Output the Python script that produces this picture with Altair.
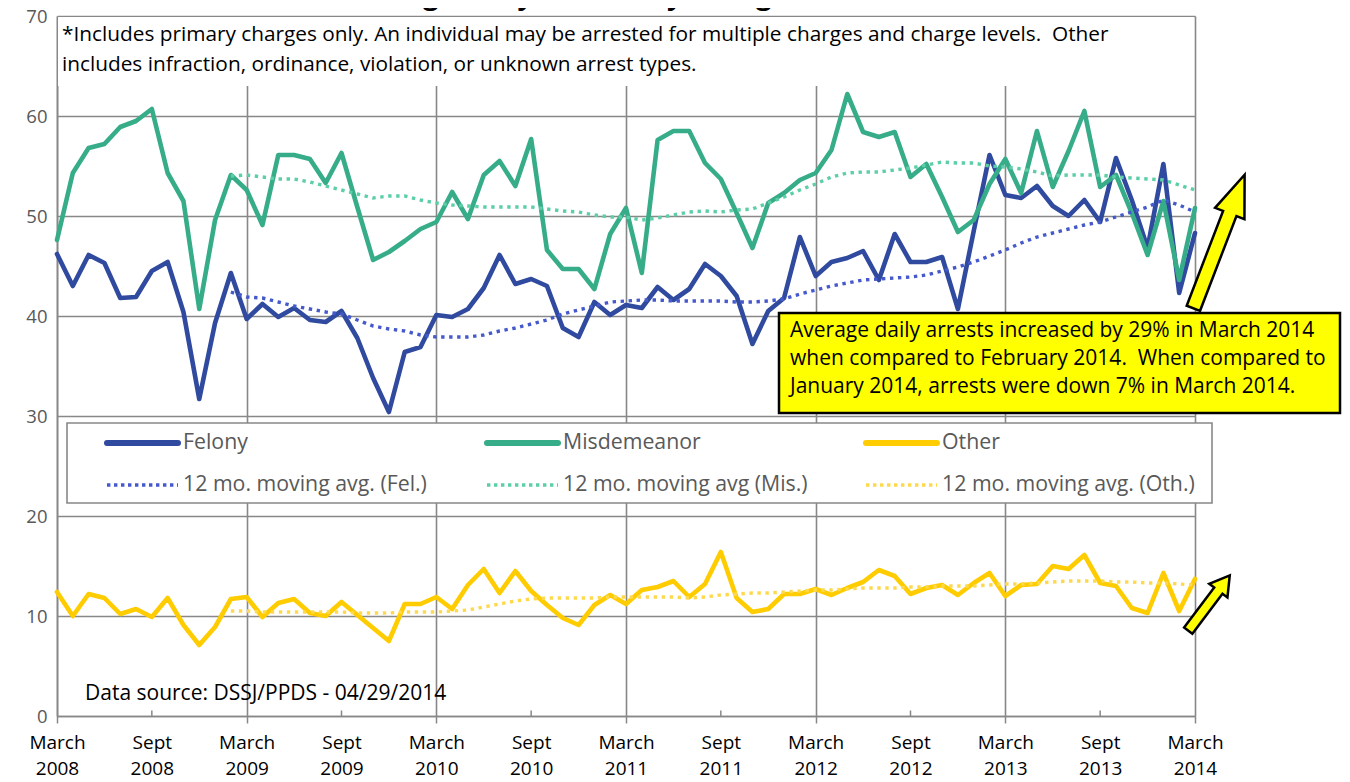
import altair as alt
import pandas as pd

# ---------------- data ----------------
# month index: 0 = March 2008 ... 72 = March 2014
months = list(range(73))
tick_values = list(range(0, 73, 6))
tick_labels = ["March 2008", "Sept 2008", "March 2009", "Sept 2009", "March 2010",
               "Sept 2010", "March 2011", "Sept 2011", "March 2012", "Sept 2012",
               "March 2013", "Sept 2013", "March 2014"]
y_ticks = [0, 10, 20, 30, 40, 50, 60, 70]

felony = [46.2, 43.0, 46.1, 45.3, 41.8, 41.9, 44.5, 45.4, 40.4, 31.7,
          39.3, 44.3, 39.7, 41.2, 39.9, 40.8, 39.6, 39.4, 40.5, 37.8,
          33.8, 30.4, 36.4, 36.9, 40.1, 39.9, 40.7, 42.8, 46.1, 43.2,
          43.7, 43.0, 38.8, 37.9, 41.4, 40.1, 41.1, 40.8, 42.9, 41.6,
          42.7, 45.2, 44.0, 42.0, 37.2, 40.5, 41.8, 47.9, 44.0, 45.4,
          45.8, 46.5, 43.6, 48.2, 45.4, 45.4, 45.9, 40.7, 48.5, 56.1,
          52.1, 51.8, 53.0, 51.0, 50.0, 51.6, 49.4, 55.8, 51.6, 46.8,
          55.2, 42.3, 48.3]
misdemeanor = [47.6, 54.3, 56.8, 57.2, 58.9, 59.5, 60.7, 54.3, 51.5, 40.7,
               49.6, 54.1, 52.6, 49.1, 56.1, 56.1, 55.7, 53.3, 56.3, 50.9,
               45.6, 46.4, 47.5, 48.7, 49.4, 52.4, 49.7, 54.1, 55.5, 53.0,
               57.7, 46.6, 44.7, 44.7, 42.7, 48.2, 50.8, 44.3, 57.6, 58.5,
               58.5, 55.3, 53.7, 50.3, 46.8, 51.3, 52.3, 53.6, 54.3, 56.6,
               62.2, 58.4, 57.9, 58.4, 53.9, 55.2, 51.9, 48.4, 49.6, 53.2,
               55.7, 52.3, 58.5, 52.9, 56.5, 60.5, 52.9, 54.1, 50.3, 46.1,
               51.5, 43.6, 50.8]
other = [12.4, 10.0, 12.2, 11.8, 10.2, 10.7, 9.9, 11.8, 9.1, 7.1,
         8.9, 11.7, 11.9, 9.9, 11.3, 11.7, 10.3, 10.0, 11.4, 10.1,
         8.8, 7.5, 11.2, 11.2, 11.9, 10.7, 13.1, 14.7, 12.3, 14.5,
         12.5, 11.1, 9.8, 9.1, 11.1, 12.1, 11.2, 12.6, 12.9, 13.5,
         11.9, 13.2, 16.4, 11.8, 10.4, 10.7, 12.2, 12.2, 12.7, 12.1,
         12.8, 13.4, 14.6, 14.0, 12.2, 12.8, 13.1, 12.1, 13.3, 14.3,
         12.0, 13.1, 13.2, 15.0, 14.7, 16.1, 13.3, 13.0, 10.8, 10.3,
         14.3, 10.5, 13.7]

# 12-month moving averages start at month index 11 (Feb 2009)
ma_start = 11
ma_felony = [42.4, 41.9, 41.8, 41.4, 41.0, 40.7, 40.4, 40.2, 39.6, 39.0,
             38.7, 38.5, 38.1, 37.9, 37.9, 37.9, 38.1, 38.5, 38.8, 39.2,
             39.6, 40.2, 40.6, 41.0, 41.4, 41.5, 41.6, 41.6, 41.5, 41.5,
             41.5, 41.5, 41.4, 41.4, 41.5, 41.7, 42.2, 42.6, 43.0, 43.3,
             43.6, 43.7, 43.8, 43.9, 44.1, 44.5, 44.9, 45.4, 46.0, 46.6,
             47.3, 47.9, 48.3, 48.7, 49.1, 49.4, 49.9, 50.4, 50.9, 51.6,
             51.1, 50.4]
ma_misdemeanor = [54.0, 54.1, 53.9, 53.7, 53.7, 53.4, 53.0, 52.6, 52.2, 51.8,
                  52.0, 52.0, 51.6, 51.3, 51.1, 51.0, 50.9, 50.9, 50.9, 50.9,
                  50.7, 50.5, 50.4, 50.1, 49.9, 49.9, 49.6, 49.8, 50.1, 50.4,
                  50.5, 50.4, 50.6, 50.7, 51.3, 51.9, 52.6, 53.2, 53.9, 54.3,
                  54.4, 54.4, 54.6, 54.8, 55.1, 55.4, 55.3, 55.3, 55.0, 54.9,
                  54.7, 54.4, 54.0, 54.1, 54.1, 54.1, 53.9, 53.8, 53.7, 53.6,
                  53.1, 52.6]
ma_other = [10.5, 10.5, 10.4, 10.4, 10.4, 10.4, 10.4, 10.4, 10.3, 10.3,
            10.3, 10.4, 10.4, 10.4, 10.5, 10.6, 10.9, 11.2, 11.5, 11.7,
            11.8, 11.8, 11.8, 11.8, 11.9, 11.9, 11.9, 11.9, 11.9, 11.8,
            11.9, 12.1, 12.2, 12.3, 12.3, 12.4, 12.5, 12.6, 12.6, 12.7,
            12.8, 12.8, 12.8, 12.9, 12.9, 13.0, 13.0, 13.0, 13.1, 13.2,
            13.2, 13.3, 13.4, 13.5, 13.5, 13.5, 13.4, 13.4, 13.3, 13.3,
            13.2, 13.1]

series = ["Felony", "Misdemeanor", "Other",
          "12 mo. moving avg. (Fel.)", "12 mo. moving avg (Mis.)", "12 mo. moving avg. (Oth.)"]
colors = ["#2F4A9E", "#36AD88", "#FFCC00", "#4559CC", "#5CCFA6", "#FFD94D"]

title_text = "Average Daily Arrests by Charge"
note_lines = ["*Includes primary charges only. An individual may be arrested for multiple charges and charge levels.  Other",
              "includes infraction, ordinance, violation, or unknown arrest types."]
callout_lines = ["Average daily arrests increased by 29% in March 2014",
                 "when compared to February 2014.  When compared to",
                 "January 2014, arrests were down 7% in March 2014."]
source_text = "Data source: DSSJ/PPDS - 04/29/2014"

# ---------------- layout (pixels inside plot area) ----------------
W, H = 1138, 700
XMAX, YMAX = 72, 70
FONT = "Open Sans"


def keep_spaces(s):
    # SVG collapses runs of spaces; keep the double spaces of the original
    return s.replace("  ", " \u00a0")


def mx(rx):
    return rx * XMAX / W


def vy(ry):
    return YMAX - ry * YMAX / H


# ---------------- tables ----------------
main_rows = []
for name, vals in zip(series[:3], [felony, misdemeanor, other]):
    for i, v in enumerate(vals):
        main_rows.append({"m": months[i], "v": v, "s": name})
main_df = pd.DataFrame(main_rows)

ma_rows = []
for name, vals in zip(series[3:], [ma_felony, ma_misdemeanor, ma_other]):
    for k, v in enumerate(vals):
        ma_rows.append({"m": months[ma_start + k], "v": v, "s": name})
ma_df = pd.DataFrame(ma_rows)

color_scale = alt.Scale(domain=series, range=colors)
x_scale = alt.Scale(domain=[0, XMAX], nice=False, zero=False)
y_scale = alt.Scale(domain=[0, YMAX], nice=False, zero=False)

labels_js = "[" + ",".join("['%s','%s']" % tuple(t.split(" ")) for t in tick_labels) + "]"
x_axis = alt.Axis(
    values=tick_values, title=None,
    labelExpr=labels_js + "[round(datum.value/6)]",
    labelColor="#000000", labelFontSize=19, labelFont=FONT, labelLineHeight=26,
    labelPadding=10, labelFlush=False,
    tickSize=7, tickColor="#888888", tickWidth=1.5,
    tickOpacity={"condition": {"test": "datum.value % 12 === 0", "value": 1}, "value": 0},
    grid=True, gridColor="#888888", gridWidth=1.6,
    gridOpacity={"condition": {"test": "datum.value % 12 === 0", "value": 1}, "value": 0},
    domainColor="#888888", domainWidth=1.6,
)
y_axis = alt.Axis(
    values=y_ticks, title=None,
    labelColor="#595959", labelFontSize=18.5, labelFont=FONT, labelPadding=10,
    ticks=False, grid=True, gridColor="#888888", gridWidth=1.6,
    domainColor="#888888", domainWidth=1.6,
)


def X(field="m"):
    return alt.X(f"{field}:Q", scale=x_scale, axis=x_axis)


def Y(field="v"):
    return alt.Y(f"{field}:Q", scale=y_scale, axis=y_axis)


# note box (white, hides gridlines)
note_box = alt.Chart(pd.DataFrame([{"m": mx(1), "m2": mx(W - 1), "v": vy(1), "v2": vy(70)}])).mark_rect(
    fill="white", stroke=None).encode(x=X(), x2="m2:Q", y=Y(), y2="v2:Q")

# legend box
legend_box = alt.Chart(pd.DataFrame([{"m": mx(10), "m2": mx(1155), "v": vy(407), "v2": vy(487)}])).mark_rect(
    fill="white", stroke="#888888", strokeWidth=1.6).encode(x=X(), x2="m2:Q", y=Y(), y2="v2:Q")

# small inward ticks at Sept
sept_df = pd.DataFrame({"m": [t for t in tick_values if t % 12 == 6]})
sept_df["v"] = 0.0
sept_df["v2"] = 0.55
sept_ticks = alt.Chart(sept_df).mark_rule(color="#888888", strokeWidth=1.5).encode(
    x=X(), y=Y(), y2="v2:Q")

main_lines = alt.Chart(main_df).mark_line(strokeWidth=4.6, strokeJoin="round", strokeCap="round").encode(
    x=X(), y=Y(), color=alt.Color("s:N", scale=color_scale, legend=None))

ma_lines = alt.Chart(ma_df).mark_line(strokeWidth=3.4, strokeDash=[3.4, 4.6], strokeCap="butt").encode(
    x=X(), y=Y(), color=alt.Color("s:N", scale=color_scale, legend=None))

# legend entries
col_x = [50, 430, 809]
row_y = [427, 469]
leg_rows = []
for k, name in enumerate(series):
    r, c = divmod(k, 3)
    leg_rows.append({"m": mx(col_x[c]), "m2": mx(col_x[c] + 71), "v": vy(row_y[r]),
                     "mt": mx(col_x[c] + 76), "s": name, "solid": r == 0})
leg_df = pd.DataFrame(leg_rows)
leg_solid = alt.Chart(leg_df[leg_df.solid]).mark_rule(strokeWidth=6, strokeCap="round").encode(
    x=X(), x2="m2:Q", y=Y(), color=alt.Color("s:N", scale=color_scale, legend=None))
leg_dot = alt.Chart(leg_df[~leg_df.solid]).mark_rule(strokeWidth=3.4, strokeDash=[3.4, 3.6]).encode(
    x=X(), x2="m2:Q", y=Y(), color=alt.Color("s:N", scale=color_scale, legend=None))
leg_text = alt.Chart(leg_df).mark_text(align="left", baseline="middle", fontSize=21.3, font=FONT,
                                        color="#595959").encode(x=X("mt"), y=Y(), text="s:N")

# callout
callout_box = alt.Chart(pd.DataFrame([{"m": mx(722), "m2": mx(1283), "v": vy(297), "v2": vy(397)}])).mark_rect(
    fill="#FFFF00", stroke="#000000", strokeWidth=2.5).encode(x=X(), x2="m2:Q", y=Y(), y2="v2:Q")
callout_df = pd.DataFrame({"t": [keep_spaces(s) for s in callout_lines], "m": [mx(733)] * 3,
                           "v": [vy(315), vy(343), vy(371)]})
callout_text = alt.Chart(callout_df).mark_text(align="left", baseline="middle", fontSize=21, font=FONT,
                                               color="#000000").encode(x=X(), y=Y(), text="t:N")

arrow_path = "M -0.1 1 L -0.1 -0.42 L -0.22 -0.42 L 0 -1 L 0.22 -0.42 L 0.1 -0.42 L 0.1 1 Z"
arrow_small_path = "M -0.15 1 L -0.15 -0.45 L -0.33 -0.45 L 0 -1 L 0.33 -0.45 L 0.15 -0.45 L 0.15 1 Z"
arrow_big = alt.Chart(pd.DataFrame([{"m": mx(1162), "v": vy(225.5)}])).mark_point(
    shape=arrow_path, filled=True, fill="#FFFF00", stroke="#000000", strokeWidth=2.5, opacity=1,
    angle=21, size=143 * 143).encode(x=X(), y=Y())
arrow_small = alt.Chart(pd.DataFrame([{"m": mx(1152), "v": vy(587)}])).mark_point(
    shape=arrow_small_path, filled=True, fill="#FFFF00", stroke="#000000", strokeWidth=2.5, opacity=1,
    angle=37, size=69 * 69).encode(x=X(), y=Y())

note_df = pd.DataFrame({"t": [keep_spaces(s) for s in note_lines], "m": [mx(5)] * 2, "v": [vy(19), vy(49)]})
note_text = alt.Chart(note_df).mark_text(align="left", baseline="middle", fontSize=20.8, font=FONT,
                                         color="#000000").encode(x=X(), y=Y(), text="t:N")

source = alt.Chart(pd.DataFrame([{"t": source_text, "m": mx(28), "v": vy(678)}])).mark_text(
    align="left", baseline="middle", fontSize=21, font=FONT, color="#000000").encode(x=X(), y=Y(), text="t:N")

title = alt.Chart(pd.DataFrame([{"t": title_text}])).mark_text(
    align="center", baseline="alphabetic", fontSize=28, font=FONT, fontWeight="bold", color="#000000"
).encode(x=alt.value(508), y=alt.value(-12), text="t:N")

chart = alt.layer(
    note_box, legend_box, sept_ticks, main_lines, ma_lines, callout_box, callout_text,
    arrow_big, arrow_small, note_text, source, leg_solid, leg_dot, leg_text, title
).properties(
    width=W, height=H,
    autosize=alt.AutoSizeParams(type="none"),
    padding={"left": 49, "top": 8, "right": 147, "bottom": 66},
).configure_view(stroke=None).configure(font=FONT, background="white")

chart.save("out.html", embed_options={"renderer": "svg", "actions": False})
